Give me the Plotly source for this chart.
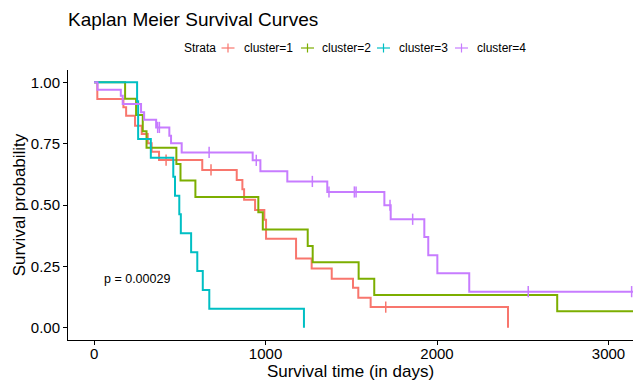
import plotly.graph_objects as go
import numpy as np

# ---- data (days, survival probability) ----
clusters = ["cluster=1", "cluster=2", "cluster=3", "cluster=4"]
colors = ["#F8766D", "#7CAE00", "#00BFC4", "#C77CFF"]

c1_time = [0, 19, 171, 187, 239, 278, 313, 336, 379, 631, 832, 865, 875, 939, 993, 1003, 1178, 1269, 1386, 1510, 1541, 1613, 2414]
c1_surv = [1.0, 0.932, 0.898, 0.864, 0.823, 0.789, 0.752, 0.717, 0.683, 0.643, 0.602, 0.564, 0.521, 0.48, 0.44, 0.363, 0.282, 0.241, 0.2, 0.163, 0.122, 0.084, 0.0]
c1_cens = [420, 682, 1701]

c2_time = [0, 181, 245, 284, 306, 480, 504, 591, 958, 984, 1246, 1275, 1543, 1634, 2701, 3160]
c2_surv = [1.0, 0.933, 0.867, 0.8, 0.733, 0.667, 0.6, 0.533, 0.47, 0.4, 0.333, 0.267, 0.2, 0.133, 0.067, 0.067]
c2_cens = []

c3_time = [0, 251, 257, 331, 462, 472, 497, 506, 566, 602, 634, 672, 1224]
c3_surv = [1.0, 0.923, 0.769, 0.692, 0.615, 0.538, 0.462, 0.385, 0.308, 0.231, 0.154, 0.077, 0.0]
c3_cens = []

c4_time = [0, 20, 156, 167, 274, 292, 362, 439, 449, 511, 925, 970, 1127, 1360, 1693, 1730, 1926, 1949, 2002, 2188, 3160]
c4_surv = [1.0, 0.97, 0.945, 0.911, 0.878, 0.847, 0.816, 0.782, 0.752, 0.714, 0.682, 0.637, 0.596, 0.553, 0.499, 0.442, 0.37, 0.295, 0.222, 0.147, 0.147]
c4_cens = [371, 381, 671, 946, 1273, 1370, 1518, 1528, 1726, 1858, 2532, 3135]

times = [c1_time, c2_time, c3_time, c4_time]
survs = [c1_surv, c2_surv, c3_surv, c4_surv]
cens = [c1_cens, c2_cens, c3_cens, c4_cens]

x_ticks = [0, 1000, 2000, 3000]
y_ticks = [0, 0.25, 0.5, 0.75, 1.0]
y_ticktext = ["0.00", "0.25", "0.50", "0.75", "1.00"]
pval_text = "p = 0.00029"
legend_title = "Strata"

FONT = "Liberation Sans, Arial, sans-serif"

# plot-area geometry in pixels (for placing the legend drawn in the top margin)
W, H = 633, 381
ML, MR, MT, MB = 68, 0, 70, 41
PW, PH = W - ML - MR, H - MT - MB


def px2paper(px, py):
    return (px - ML) / PW, (H - MB - py) / PH


def surv_at(t_arr, s_arr, t):
    idx = np.searchsorted(np.array(t_arr), t, side="right") - 1
    return s_arr[max(idx, 0)]


fig = go.Figure()
for name, col, t, s, c in zip(clusters, colors, times, survs, cens):
    fig.add_trace(go.Scatter(x=t, y=s, mode="lines", name=name, line=dict(color=col, width=2, shape="hv"),
                             showlegend=False, hoverinfo="skip"))
    if c:
        fig.add_trace(go.Scatter(x=c, y=[surv_at(t, s, ci) for ci in c], mode="markers",
                                 marker=dict(symbol="line-ns", size=8, line=dict(color=col, width=1.5)),
                                 showlegend=False, hoverinfo="skip"))

fig.add_annotation(x=250, y=0.2, text=pval_text, showarrow=False,
                   font=dict(family=FONT, size=12.5, color="black"), xanchor="center", yanchor="middle")

# ---- legend (drawn in the top margin, like ggplot's top legend) ----
leg_y = 47.5
x0, y0 = px2paper(182, leg_y)
fig.add_annotation(x=x0, y=y0, xref="paper", yref="paper", text=legend_title, showarrow=False,
                   xanchor="left", yanchor="middle", font=dict(family=FONT, size=12, color="black"))
glyph_cx = [228, 307.5, 383.5, 461.5]
text_x = [242, 320, 397, 475]
for name, col, gx, tx in zip(clusters, colors, glyph_cx, text_x):
    a, b = px2paper(gx - 6.5, leg_y + 0.5)
    c_, _ = px2paper(gx + 6.5, leg_y + 0.5)
    fig.add_shape(type="line", xref="paper", yref="paper", x0=a, x1=c_, y0=b, y1=b,
                  line=dict(color=col, width=1.2))
    m, t1 = px2paper(gx, leg_y - 4)
    _, t2 = px2paper(gx, leg_y + 5)
    fig.add_shape(type="line", xref="paper", yref="paper", x0=m, x1=m, y0=t1, y1=t2,
                  line=dict(color=col, width=1.2))
    p, q = px2paper(tx, leg_y)
    fig.add_annotation(x=p, y=q, xref="paper", yref="paper", text=name, showarrow=False,
                       xanchor="left", yanchor="middle", font=dict(family=FONT, size=12, color="black"))

fig.update_layout(
    width=W, height=H,
    margin=dict(l=ML, r=MR, t=MT, b=MB),
    plot_bgcolor="white", paper_bgcolor="white",
    showlegend=False,
    font=dict(family=FONT, color="black"),
    title=dict(text="Kaplan Meier Survival Curves", x=ML / W, xanchor="left",
               y=1 - 19 / H, yanchor="middle", font=dict(family=FONT, size=19, color="black")),
    xaxis=dict(range=[-152, 3143], tickvals=x_ticks, showline=True, linecolor="black", linewidth=1,
               ticks="outside", ticklen=4, tickcolor="black", showgrid=False, zeroline=False,
               ticklabelstandoff=-4,
               tickfont=dict(size=15, color="black"),
               title=dict(text="Survival time (in days)", font=dict(size=17), standoff=4)),
    yaxis=dict(range=[-0.05, 1.05], tickvals=y_ticks, ticktext=y_ticktext, showline=True,
               linecolor="black", linewidth=1, ticks="outside", ticklen=4, tickcolor="black",
               showgrid=False, zeroline=False, tickfont=dict(size=15, color="black"),
               title=dict(text="Survival probability", font=dict(size=17), standoff=0)),
)

fig.write_html("out.html")
